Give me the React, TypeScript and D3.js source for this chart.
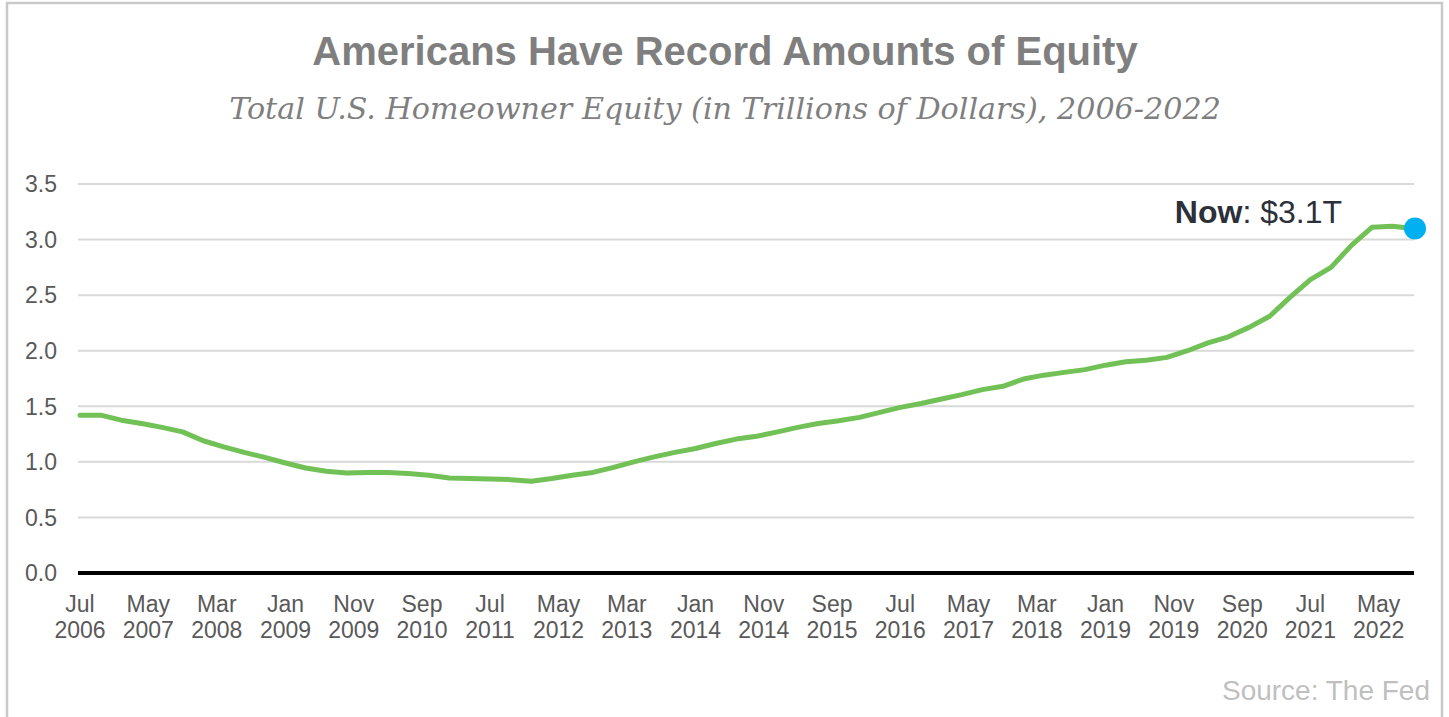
import React from "react";
import * as d3 from "d3";

const quarters: string[] = [
  "2006-07","2006-10",
  "2007-01","2007-04","2007-07","2007-10",
  "2008-01","2008-04","2008-07","2008-10",
  "2009-01","2009-04","2009-07","2009-10",
  "2010-01","2010-04","2010-07","2010-10",
  "2011-01","2011-04","2011-07","2011-10",
  "2012-01","2012-04","2012-07","2012-10",
  "2013-01","2013-04","2013-07","2013-10",
  "2014-01","2014-04","2014-07","2014-10",
  "2015-01","2015-04","2015-07","2015-10",
  "2016-01","2016-04","2016-07","2016-10",
  "2017-01","2017-04","2017-07","2017-10",
  "2018-01","2018-04","2018-07","2018-10",
  "2019-01","2019-04","2019-07","2019-10",
  "2020-01","2020-04","2020-07","2020-10",
  "2021-01","2021-04","2021-07","2021-10",
  "2022-01","2022-04","2022-07","2022-10",
];

const equity: number[] = [
  1.42, 1.42, 1.375, 1.345, 1.31, 1.27, 1.19, 1.135, 1.085, 1.04,
  0.99, 0.945, 0.915, 0.9, 0.905, 0.905, 0.895, 0.88, 0.855, 0.85,
  0.845, 0.84, 0.825, 0.85, 0.88, 0.905, 0.95, 1.0, 1.045, 1.085,
  1.12, 1.165, 1.205, 1.23, 1.27, 1.31, 1.345, 1.37, 1.4, 1.445,
  1.49, 1.525, 1.565, 1.605, 1.65, 1.68, 1.745, 1.78, 1.805, 1.83,
  1.87, 1.9, 1.915, 1.94, 2.0, 2.07, 2.125, 2.21, 2.31, 2.48,
  2.64, 2.75, 2.95, 3.11, 3.12, 3.1,
];

const xTickLabels: string[] = [
  "Jul 2006","May 2007","Mar 2008","Jan 2009","Nov 2009","Sep 2010","Jul 2011",
  "May 2012","Mar 2013","Jan 2014","Nov 2014","Sep 2015","Jul 2016","May 2017",
  "Mar 2018","Jan 2019","Nov 2019","Sep 2020","Jul 2021","May 2022",
];

const yTicks: number[] = [0, 0.5, 1.0, 1.5, 2.0, 2.5, 3.0, 3.5];

const title = "Americans Have Record Amounts of Equity";
const subtitle = "Total U.S. Homeowner Equity (in Trillions of Dollars), 2006-2022";
const annotationBold = "Now";
const annotationRest = ": $3.1T";
const source = "Source: The Fed";

const W = 1449;
const H = 717;

export default function App() {
  const parseQ = d3.timeParse("%Y-%m");
  const parseTick = d3.timeParse("%b %Y");
  const dates = quarters.map((q) => parseQ(q) as Date);
  const data = dates.map((d, i) => ({ d, v: equity[i] }));

  const x = d3
    .scaleTime()
    .domain([dates[0], dates[dates.length - 1]])
    .range([80, 1413]);
  const y = d3.scaleLinear().domain([0, 3.5]).range([573, 184]);

  const line = d3
    .line<{ d: Date; v: number }>()
    .x((p) => x(p.d))
    .y((p) => y(p.v));

  const gridX0 = 78;
  const gridX1 = 1414;
  const last = data[data.length - 1];
  const lx = x(last.d);
  const ly = y(last.v);

  const font = "'Liberation Sans', Arial, sans-serif";

  return (
    <div style={{ position: "absolute", left: 0, top: 0 }}>
      <svg width={W} height={H} style={{ display: "block", background: "#fff" }}>
        <rect x={7} y={3} width={1435} height={H + 20} fill="#fff" stroke="#c9c9c9" strokeWidth={2.5} />
        <text x={725} y={65} textAnchor="middle" fontFamily={font} fontWeight="bold" fontSize={40} fill="#7f7f7f">
          {title}
        </text>
        <text x={725} y={119} textAnchor="middle" fontFamily="'DejaVu Serif', serif" fontStyle="italic" fontSize={30.2} fill="#7f7f7f">
          {subtitle}
        </text>
        {yTicks.filter((t) => t > 0).map((t) => (
          <line key={t} x1={gridX0} x2={gridX1} y1={y(t)} y2={y(t)} stroke="#d9d9d9" strokeWidth={2} />
        ))}
        {yTicks.map((t) => (
          <text key={"yl" + t} x={57} y={y(t)} dy="0.36em" textAnchor="end" fontFamily={font} fontSize={23} fill="#595959">
            {t.toFixed(1)}
          </text>
        ))}
        <path d={line(data) || ""} fill="none" stroke="#71c156" strokeWidth={5} strokeLinejoin="round" strokeLinecap="round" />
        <line x1={gridX0} x2={gridX1} y1={y(0)} y2={y(0)} stroke="#000" strokeWidth={4} />
        {xTickLabels.map((lab) => {
          const d = parseTick(lab) as Date;
          const [m, yr] = lab.split(" ");
          return (
            <text key={lab} x={x(d)} textAnchor="middle" fontFamily={font} fontSize={23} fill="#595959">
              <tspan x={x(d)} y={612}>{m}</tspan>
              <tspan x={x(d)} y={638}>{yr}</tspan>
            </text>
          );
        })}
        <circle cx={lx + 2} cy={ly} r={11} fill="#00b0f0" />
        <text x={lx - 71} y={ly - 5} textAnchor="end" fontFamily={font} fontSize={32} fill="#2b3039">
          <tspan fontWeight="bold">{annotationBold}</tspan>
          <tspan>{annotationRest}</tspan>
        </text>
        <text x={1430} y={700} textAnchor="end" fontFamily={font} fontSize={28} fill="#bfbfbf">
          {source}
        </text>
      </svg>
    </div>
  );
}
